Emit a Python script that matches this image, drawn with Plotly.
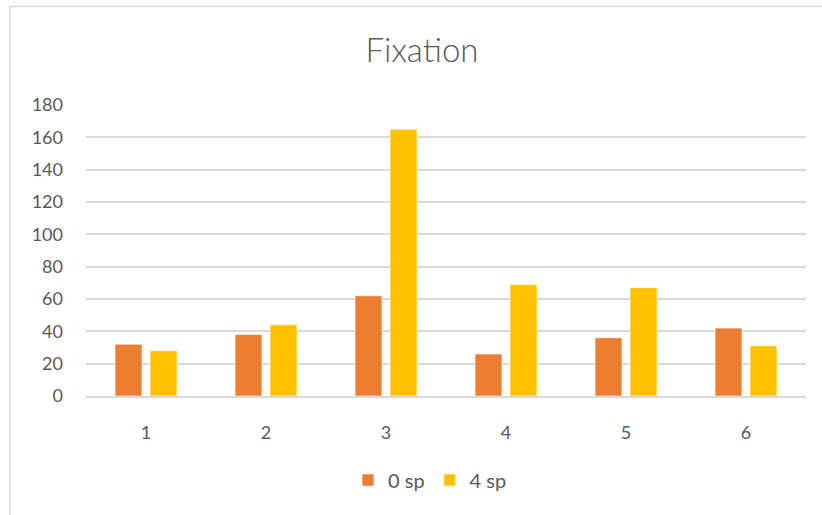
import plotly.graph_objects as go

categories = ["1", "2", "3", "4", "5", "6"]
series_0sp = [32, 38, 62, 26, 36, 42]
series_4sp = [28, 44, 165, 69, 67, 31]
y_ticks = [0, 20, 40, 60, 80, 100, 120, 140, 160, 180]

TEXT = "#595959"
GRID = "#D9D9D9"
FONT = "Lato, Open Sans, sans-serif"

fig = go.Figure()
fig.add_trace(go.Bar(
    x=categories, y=series_0sp, name="0 sp",
    marker=dict(color="#ED7D31", line=dict(color="rgba(255,255,255,0.6)", width=1)),
))
fig.add_trace(go.Bar(
    x=categories, y=series_4sp, name="4 sp",
    marker=dict(color="#FFC000", line=dict(color="rgba(255,255,255,0.6)", width=1)),
))

L, R, T, B = 86, 16, 105, 119
W, H = 822, 515
pw, ph = W - L - R, H - T - B

fig.update_layout(
    width=W, height=H,
    margin=dict(l=L, r=R, t=T, b=B),
    paper_bgcolor="white", plot_bgcolor="white",
    barmode="group", bargap=0.4167, bargroupgap=0.23,
    font=dict(family=FONT, color=TEXT, size=17),
    title=dict(text="Fixation", xref="container", x=422 / W, xanchor="center",
               y=1 - 50 / H, yanchor="middle",
               font=dict(size=33, color=TEXT, family=FONT, weight=300)),
    legend=dict(orientation="h", x=(430 - L) / pw, xanchor="center",
                y=(H - B - 480) / ph, yanchor="middle",
                font=dict(size=20, color=TEXT), itemwidth=30,
                traceorder="normal"),
    xaxis=dict(showgrid=False, showline=True, linecolor=GRID, linewidth=1.5,
               ticks="", ticklabelstandoff=20, tickfont=dict(size=18, color=TEXT)),
    yaxis=dict(range=[0, 180], tickvals=y_ticks, showgrid=True, gridcolor=GRID,
               gridwidth=1.5, zeroline=False, showline=False, ticks="",
               ticklabelstandoff=22, tickfont=dict(size=18, color=TEXT)),
    shapes=[dict(type="rect", xref="paper", yref="paper",
                 x0=(10 - L) / pw, x1=(840 - L) / pw,
                 y0=(H - B - 530) / ph, y1=(H - B - 6.5) / ph,
                 line=dict(color=GRID, width=1.5), fillcolor="rgba(0,0,0,0)", layer="below")],
)

fig.write_html("out.html")
